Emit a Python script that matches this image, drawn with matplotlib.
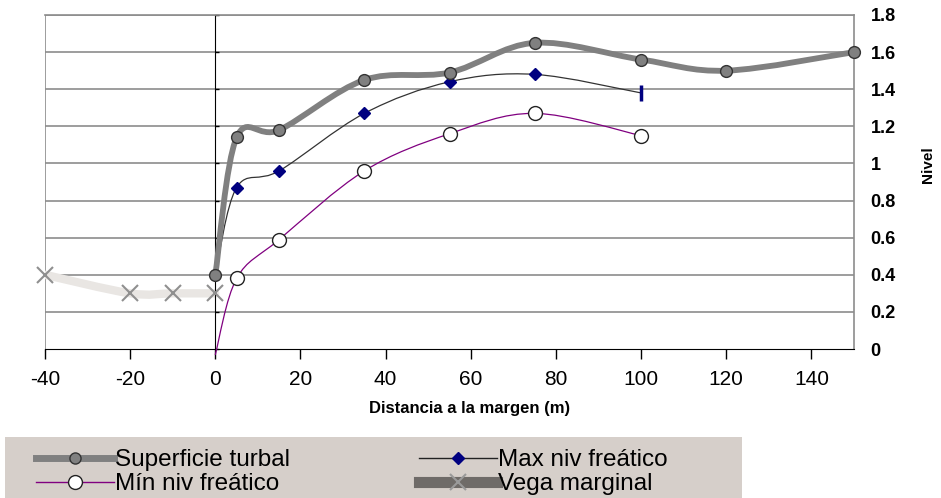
import numpy as np
import matplotlib
matplotlib.use('Agg')
import matplotlib.pyplot as plt
from matplotlib.path import Path
from matplotlib.patches import PathPatch, Rectangle
from matplotlib.lines import Line2D

plt.rcParams['font.family'] = ['Liberation Sans', 'DejaVu Sans']

# data
sup_x = [0, 5, 15, 35, 55, 75, 100, 120, 150]
sup_y = [0.40, 1.14, 1.18, 1.45, 1.49, 1.65, 1.56, 1.50, 1.60]
max_x = [0, 5, 15, 35, 55, 75, 100]
max_y = [0.40, 0.87, 0.96, 1.27, 1.44, 1.48, 1.38]
min_x = [0, 5, 15, 35, 55, 75, 100]
min_y = [-0.03, 0.38, 0.59, 0.96, 1.16, 1.27, 1.15]
vega_x = [-40, -20, -10, 0]
vega_y = [0.40, 0.30, 0.30, 0.30]
xticks = [-40, -20, 0, 20, 40, 60, 80, 100, 120, 140]
yticks = [0, 0.2, 0.4, 0.6, 0.8, 1, 1.2, 1.4, 1.6, 1.8]


def smooth_path(xs, ys):
    # excel style smoothed line: cubic bezier through every point
    p = np.column_stack([xs, ys]).astype(float)
    n = len(p)
    verts = [p[0]]
    codes = [Path.MOVETO]
    for i in range(n - 1):
        p0 = p[i - 1] if i > 0 else p[i]
        p3 = p[i + 2] if i + 2 < n else p[i + 1]
        c1 = p[i] + (p[i + 1] - p0) / 6.0
        c2 = p[i + 1] - (p3 - p[i]) / 6.0
        verts += [c1, c2, p[i + 1]]
        codes += [Path.CURVE4] * 3
    return Path(verts, codes)


def draw_smooth(ax, xs, ys, **kw):
    patch = PathPatch(smooth_path(xs, ys), facecolor='none', capstyle='round',
                      joinstyle='round', **kw)
    ax.add_patch(patch)
    return patch


fig = plt.figure(figsize=(9.41, 4.98), dpi=100)
ax = fig.add_axes([45 / 941, 1 - 349 / 498, 809 / 941, 334 / 498])
ax.set_xlim(-40, 150)
ax.set_ylim(0, 1.8)

for y in yticks[1:]:
    ax.axhline(y, color='#8c8c8c', lw=1.2, zorder=1)
ax.axvline(-40, color='#8c8c8c', lw=1.2, zorder=1)

# vega marginal
draw_smooth(ax, vega_x, vega_y, edgecolor='#e9e6e3', lw=6, zorder=2)
ax.plot(vega_x, vega_y, ls='none', marker='x', ms=12, mew=1.5,
        color='#8f8f8f', zorder=3, clip_on=False)

# min niv freatico
draw_smooth(ax, min_x, min_y, edgecolor='#800080', lw=0.9, zorder=3, clip_on=False)
ax.plot(min_x[1:], min_y[1:], ls='none', marker='o', ms=10, mfc='white',
        mec='#222222', mew=1.0, zorder=4)

# max niv freatico
draw_smooth(ax, max_x, max_y, edgecolor='#333333', lw=0.9, zorder=3)
ax.plot(max_x[:-1], max_y[:-1], ls='none', marker='D', ms=6, mfc='#000080',
        mec='#000080', zorder=4)
ax.plot(max_x[-1:], max_y[-1:], ls='none', marker='|', ms=11, mew=2.5,
        color='#000080', zorder=4)

# superficie turbal
draw_smooth(ax, sup_x, sup_y, edgecolor='#808080', lw=4.2, zorder=5)
ax.plot(sup_x, sup_y, ls='none', marker='o', ms=8.5, mfc='#808080',
        mec='#333333', mew=1.0, zorder=6, clip_on=False)

ax.spines['left'].set_position(('data', 0))
ax.spines['left'].set_color('black')
ax.spines['left'].set_zorder(2.5)
ax.spines['bottom'].set_color('black')
for s in ['top', 'right']:
    ax.spines[s].set_color('#8c8c8c')
    ax.spines[s].set_linewidth(1.2)

ax.set_xticks(xticks)
ax.set_xticklabels([str(t) for t in xticks])
ax.tick_params(axis='x', direction='out', length=7, width=1, color='black',
               labelsize=15, pad=8)
ax.set_yticks(yticks)
ax.tick_params(axis='y', direction='in', length=3, width=1, labelleft=False)

ax2 = ax.twinx()
ax2.set_ylim(0, 1.8)
ax2.set_yticks(yticks)
ax2.set_yticklabels(['%g' % t for t in yticks], fontweight='bold')
ax2.tick_params(axis='y', length=0, labelsize=13, pad=12)
for s in ax2.spines.values():
    s.set_visible(False)

fig.text(470 / 941, 1 - 408 / 498, 'Distancia a la margen (m)', ha='center',
         va='center', fontsize=12, fontweight='bold')
fig.text(928 / 941, 1 - 165 / 498, 'Nivel', ha='center', va='center',
         rotation=90, fontsize=11, fontweight='bold')

# legend
fig.patches.append(Rectangle((5 / 941, 0), 737 / 941, 61 / 498,
                             transform=fig.transFigure, facecolor='#d6cfca',
                             edgecolor='none', zorder=0))
handles = [
    Line2D([], [], color='#808080', lw=5, marker='o', ms=8, mfc='#808080',
           mec='#333333'),
    Line2D([], [], color='#800080', lw=1, marker='o', ms=10, mfc='white',
           mec='#222222'),
    Line2D([], [], color='#222222', lw=1, marker='D', ms=6, mfc='#000080',
           mec='#000080'),
    Line2D([], [], color='#6f6b68', lw=8, marker='x', ms=12, mew=1.5,
           mec='#9a9a9a'),
]
labels = ['Superficie turbal', 'Mín niv freático', 'Max niv freático',
          'Vega marginal']
fig.legend(handles, labels, ncol=2, loc='upper left',
           bbox_to_anchor=(36 / 941, 1 - 449 / 498), frameon=False,
           fontsize=17.5, handlelength=3.2, handletextpad=0.05,
           columnspacing=5.3, labelspacing=0.1, borderpad=0,
           borderaxespad=0)

fig.savefig('out.png', dpi=100)
